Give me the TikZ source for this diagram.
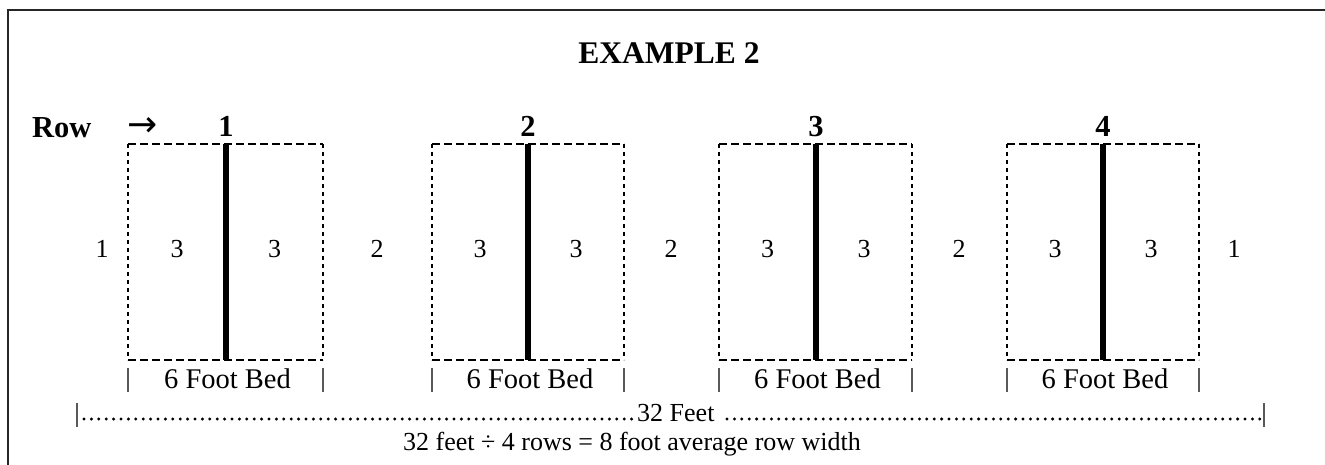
\documentclass[tikz,border=0pt]{standalone}
\usepackage{fontspec}
\setmainfont{Liberation Serif}
\newfontfamily\arrowfont{DejaVu Sans}
\begin{document}
\begin{tikzpicture}[x=1pt,y=-1pt,
  body/.style={font=\fontsize{26}{30}\selectfont, inner sep=0pt, anchor=base},
  bedtxt/.style={font=\fontsize{28.5}{32}\selectfont, inner sep=0pt, anchor=base},
  boldtxt/.style={font=\fontsize{30.5}{36}\selectfont\bfseries, inner sep=0pt, anchor=base},
  hdash/.style={line width=2pt, dash pattern=on 8pt off 4pt},
  vdash/.style={line width=2.2pt, dash pattern=on 4pt off 4pt},
  divider/.style={line width=6pt},
  bar/.style={line width=1.3pt, black!65},
  dotline/.style={line width=3.3pt, line cap=round, dash pattern=on 0pt off 7.4pt}]
\useasboundingbox (0,0) rectangle (1325,464);
\clip (0,0) rectangle (1325,464);
% frame
\draw[line width=2.8pt, black!85] (8,480) -- (8,10) -- (1340,10);
% title
\node[boldtxt, font=\fontsize{31.5}{36}\selectfont\bfseries] (title) at (669,63) {EXAMPLE 2};
\node[boldtxt, anchor=base west] (row) at (32,137) {Row};
\node[inner sep=0pt, font=\arrowfont\fontsize{36}{40}\selectfont] (arrow) at (143,127) {→};
% beds
\foreach \l/\r/\d/\n [count=\i] in {128/323/226/1, 432/624/528/2, 719/912/816/3, 1007/1199/1103/4}{
  \draw[hdash] (\l,144) -- (\r,144);
  \draw[hdash] (\l,360) -- (\r,360);
  \draw[vdash] (\l,144) -- (\l,360);
  \draw[vdash] (\r,144) -- (\r,360);
  \draw[divider] (\d,144) -- (\d,360);
  \node[boldtxt] (rn\i) at (\d,136) {\n};
  \node[body] (bl\i) at ({(\l+\d)/2},257) {3};
  \node[body] (br\i) at ({(\r+\d)/2},257) {3};
  \draw[bar] (\l,368) -- (\l,392);
  \draw[bar] (\r,368) -- (\r,392);
  \node[bedtxt] (bed\i) at ({(\l+\r)/2+2},388) {6 Foot Bed};
}
% paths
\node[body] (p0) at (102,257) {1};
\node[body] (p1) at (377,257) {2};
\node[body] (p2) at (671,257) {2};
\node[body] (p3) at (959,257) {2};
\node[body] (p4) at (1234,257) {1};
% 32 feet line
\coordinate (la) at (77,403);
\coordinate (lb) at (77,427);
\coordinate (ra) at (1264,403);
\coordinate (rb) at (1264,427);
\draw[bar] (la) -- (lb);
\draw[bar] (ra) -- (rb);
\node[body, anchor=base west] (feet) at (637,421) {32 Feet};
\coordinate (d1a) at (84,419);
\coordinate (d1b) at (633,419);
\coordinate (d2a) at (727,419);
\coordinate (d2b) at (1260,419);
\draw[dotline] (d1a) -- (d1b);
\draw[dotline] (d2a) -- (d2b);
\node[body] (sum) at (632,450) {32 feet ÷ 4 rows = 8 foot average row width};
\end{tikzpicture}
\end{document}
